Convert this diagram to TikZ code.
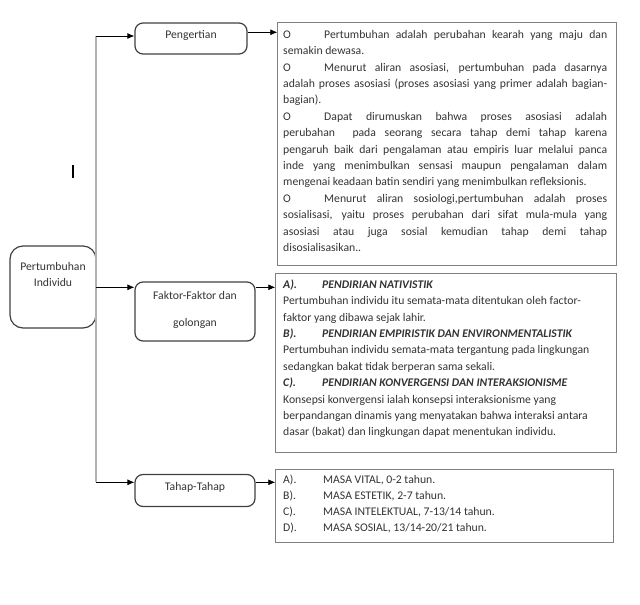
\documentclass[tikz,border=0pt]{standalone}
\usepackage{fontspec}
\setmainfont{Carlito}
\usetikzlibrary{arrows.meta}

\newcommand{\jl}[1]{\makebox[\linewidth][s]{#1}\par}
\newcommand{\tabO}{\makebox[41pt][l]{O}}
\newcommand{\tabL}[1]{\makebox[39pt][l]{#1}}
\newcommand{\head}[2]{\textbf{\textit{\tabL{#1}#2}}\par}

\begin{document}
\begin{tikzpicture}[x=1pt, y=-1pt,
  rbox/.style={draw=black!75, line width=1.2, rounded corners=8, inner sep=0},
  tbox/.style={draw=black!50, line width=1, inner sep=0, anchor=north west},
  lbl/.style={text=black!80, font=\fontsize{11.7}{16.5}\selectfont, align=center, inner sep=0},
  txt/.style={text=black!80, font=\fontsize{11.7}{16.4}\selectfont, inner sep=0, anchor=base west},
  arr/.style={-{Latex[length=7,width=6]}, line width=0.8},
  trunk/.style={draw=black!30, line width=1.8}]
\useasboundingbox (0,0) rectangle (640,605);

% boxes on the left
\node[rbox, rounded corners=13, minimum width=86, minimum height=82] (root) at (53,287) {};
\node[lbl, anchor=base] (rootT) at (53,286.5) {Pertumbuhan\\Individu};
\node[rbox, minimum width=112, minimum height=31] (peng) at (191,38.5) {};
\node[lbl, anchor=base] (pengT) at (191,38) {Pengertian};
\node[rbox, minimum width=120, minimum height=59] (faktor) at (195,311.5) {};
\node[lbl, anchor=base] (faktorT) at (195,326) {Faktor-Faktor dan\\[10.5pt]golongan};
\node[rbox, minimum width=120, minimum height=32] (tahap) at (195,490.5) {};
\node[lbl, anchor=base] (tahapT) at (195,490.5) {Tahap-Tahap};

% text boxes
\node[tbox, minimum width=338.4, minimum height=242.7] (box1) at (277.3,22.3) {};
\node[tbox, minimum width=340.4, minimum height=178.7] (box2) at (275.3,273.3) {};
\node[tbox, minimum width=338, minimum height=73] (box3) at (275.3,469) {};

\node[txt] (t1) at (283,38.3) {\parbox[t]{324pt}{%
\jl{\tabO Pertumbuhan adalah perubahan kearah yang maju dan}
semakin dewasa.\par
\jl{\tabO Menurut aliran asosiasi, pertumbuhan pada dasarnya}
\jl{adalah proses asosiasi (proses asosiasi yang primer adalah bagian-}
bagian).\par
\jl{\tabO Dapat dirumuskan bahwa proses asosiasi adalah}
\jl{perubahan\ \ pada seorang secara tahap demi tahap karena}
\jl{pengaruh baik dari pengalaman atau empiris luar melalui panca}
\jl{inde yang menimbulkan sensasi maupun pengalaman dalam}
mengenai keadaan batin sendiri yang menimbulkan refleksionis.\par
\jl{\tabO Menurut aliran sosiologi,pertumbuhan adalah proses}
\jl{sosialisasi, yaitu proses perubahan dari sifat mula-mula yang}
\jl{asosiasi atau juga sosial kemudian tahap demi tahap}
disosialisasikan..}};

\node[txt] (t2) at (283,288.3) {\parbox[t]{330pt}{%
\head{A).}{PENDIRIAN NATIVISTIK}
Pertumbuhan individu itu semata-mata ditentukan oleh factor-\par
faktor yang dibawa sejak lahir.\par
\head{B).}{PENDIRIAN EMPIRISTIK DAN ENVIRONMENTALISTIK}
Pertumbuhan individu semata-mata tergantung pada lingkungan\par
sedangkan bakat tidak berperan sama sekali.\par
\head{C).}{PENDIRIAN KONVERGENSI DAN INTERAKSIONISME}
Konsepsi konvergensi ialah konsepsi interaksionisme yang\par
berpandangan dinamis yang menyatakan bahwa interaksi antara\par
dasar (bakat) dan lingkungan dapat menentukan individu.}};

\node[txt] (t3) at (283,483.5) {\parbox[t]{324pt}{\baselineskip=16pt
\makebox[40pt][l]{A).}MASA VITAL, 0-2 tahun.\par
\makebox[40pt][l]{B).}MASA ESTETIK, 2-7 tahun.\par
\makebox[40pt][l]{C).}MASA INTELEKTUAL, 7-13/14 tahun.\par
\makebox[40pt][l]{D).}MASA SOSIAL, 13/14-20/21 tahun.}};

% connectors
\coordinate (j1) at (96,36);
\coordinate (j2) at (96,287.3);
\coordinate (j3) at (96,482.3);
\draw[trunk] (j1) -- (j3);
\draw[arr] (j1) -- (j1 -| peng.west);
\draw[arr] (j2) -- (j2 -| faktor.west);
\draw[arr] (j3) -- (j3 -| tahap.west);
\draw[arr] ([yshift=6.2]peng.east) -- ([yshift=6.2]peng.east -| box1.west);
\draw[arr] (faktor.east |- j2) -- (box2.west |- j2);
\draw[arr] (tahap.east |- j3) -- (box3.west |- j3);

% cursor mark
\draw[line width=1.2] (73,165) -- (73,178);
\end{tikzpicture}
\end{document}
